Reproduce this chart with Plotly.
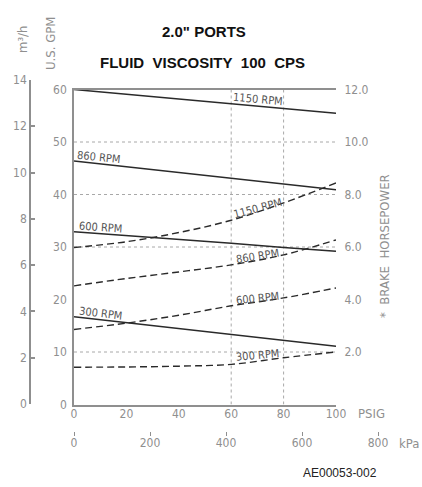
import plotly.graph_objects as go

W, H = 422, 487

# ---- data ----
psig = [0, 20, 40, 60, 80, 100]
rpms = ["1150 RPM", "860 RPM", "600 RPM", "300 RPM"]

# capacity, U.S. GPM (solid lines)
gpm_1150 = [60.0, 59.1, 58.2, 57.3, 56.4, 55.5]
gpm_860 = [46.4, 45.3, 44.2, 43.1, 42.0, 40.9]
gpm_600 = [32.9, 32.2, 31.4, 30.7, 29.9, 29.2]
gpm_300 = [16.7, 15.6, 14.5, 13.3, 12.2, 11.1]

# brake horsepower (dashed lines)
hp_1150 = [5.98, 6.2, 6.55, 7.02, 7.68, 8.44]
hp_860 = [4.52, 4.8, 5.05, 5.32, 5.7, 6.27]
hp_600 = [2.86, 3.1, 3.4, 3.76, 4.06, 4.44]
hp_300 = [1.42, 1.43, 1.46, 1.53, 1.78, 2.0]

gpm_ticks = [0, 10, 20, 30, 40, 50, 60]
hp_ticks = [2, 4, 6, 8, 10, 12]
m3h_ticks = [0, 2, 4, 6, 8, 10, 12, 14]
psig_ticks = [0, 20, 40, 60, 80, 100]
kpa_ticks = [0, 200, 400, 600, 800]
h_grid_gpm = [10, 30, 40, 50]
v_grid_psig = [60, 80]

# label anchor points (psig, value, angle)
solid_labels = [(70.2, 58.0, 5), (9.5, 47.1, 6), (10, 33.8, 4), (10, 17.4, 7)]
dash_labels = [(70.2, 7.48, -15), (70, 5.62, -9), (70, 4.02, -6), (70, 1.85, -5)]

# ---- styling ----
TICKFONT = "Liberation Sans Narrow, DejaVu Sans Condensed, Arial Narrow, sans-serif"
GRAY = "#8f8f8f"
LINE = "#2a2a2a"

fig = go.Figure()

for vals in [gpm_1150, gpm_860, gpm_600, gpm_300]:
    fig.add_trace(go.Scatter(x=psig, y=vals, mode="lines", xaxis="x", yaxis="y",
                             line=dict(color=LINE, width=1.5), showlegend=False,
                             hoverinfo="skip"))
for vals in [hp_1150, hp_860, hp_600, hp_300]:
    fig.add_trace(go.Scatter(x=psig, y=vals, mode="lines", xaxis="x", yaxis="y2",
                             line=dict(color=LINE, width=1.4, dash="7px,4px", shape="spline"),
                             showlegend=False, hoverinfo="skip"))
# empty traces so the secondary scales are drawn
fig.add_trace(go.Scatter(x=[None], y=[None], xaxis="x", yaxis="y3", showlegend=False))
fig.add_trace(go.Scatter(x=[None], y=[None], xaxis="x2", yaxis="y", showlegend=False))

xd = [74 / W, 336 / W]
yd = [1 - 404.5 / H, 1 - 89.5 / H]
tf = dict(family=TICKFONT, size=12, color=GRAY)

fig.update_layout(
    width=W, height=H, margin=dict(l=0, r=0, t=0, b=0, autoexpand=False),
    paper_bgcolor="white", plot_bgcolor="rgba(0,0,0,0)",
    xaxis=dict(domain=xd, range=[0, 100], tickvals=psig_ticks, showgrid=False,
               zeroline=False, showline=True, linecolor=GRAY, linewidth=1.5, mirror=True,
               ticks="", ticklabelstandoff=-3, tickfont=tf),
    xaxis2=dict(domain=[74 / W, 378 / W], range=[0, 800], tickvals=kpa_ticks,
                anchor="free", position=1 - 431 / H, showgrid=False, zeroline=False,
                showline=False, ticks="outside", ticklen=4, tickcolor=GRAY, tickwidth=1,
                ticklabelstandoff=-3, tickfont=tf),
    yaxis=dict(domain=yd, range=[0, 60], tickvals=gpm_ticks, showgrid=False,
               zeroline=False, showline=True, linecolor=GRAY, linewidth=1.5,
               ticks="outside", ticklen=3, tickcolor="rgba(0,0,0,0)", tickfont=tf),
    yaxis2=dict(domain=yd, range=[0, 12], tickvals=hp_ticks, tickformat=".1f",
                overlaying="y", side="right", anchor="x", showgrid=False, zeroline=False,
                showline=False, ticks="outside", ticklen=5, tickcolor="rgba(0,0,0,0)",
                tickfont=tf),
    yaxis3=dict(domain=[1 - 404 / H, 1 - 80 / H], range=[0, 14], tickvals=m3h_ticks,
                anchor="free", position=30 / W, side="left", showgrid=False, zeroline=False,
                showline=True, linecolor=GRAY, linewidth=1.5, ticks="inside", ticklen=4,
                tickcolor=GRAY, tickwidth=1.5, tickfont=tf),
)

for g in h_grid_gpm:
    fig.add_shape(type="line", xref="x", yref="y", x0=0, x1=100, y0=g, y1=g,
                  line=dict(color="#a8a8a8", width=1, dash="dot"), layer="below")
for v in v_grid_psig:
    fig.add_shape(type="line", xref="x", yref="y", x0=v, x1=v, y0=0, y1=60,
                  line=dict(color="#a8a8a8", width=1, dash="dot"), layer="below")

lf = dict(family=TICKFONT, size=11, color="#555555")
for name, (x, y, a) in zip(rpms, solid_labels):
    fig.add_annotation(x=x, y=y, xref="x", yref="y", text=name, showarrow=False,
                       textangle=a, font=lf, xanchor="center", yanchor="middle")
for name, (x, y, a) in zip(rpms, dash_labels):
    fig.add_annotation(x=x, y=y, xref="x", yref="y2", text=name, showarrow=False,
                       textangle=a, font=lf, xanchor="center", yanchor="middle")


def paper_note(px, py, text, font, angle=0, xanchor="center"):
    fig.add_annotation(x=px / W, y=1 - py / H, xref="paper", yref="paper", text=text,
                       showarrow=False, font=font, textangle=angle,
                       xanchor=xanchor, yanchor="middle")


tfont = dict(family="Liberation Sans, Arial, sans-serif", size=15, color="#111111")
paper_note(204, 32, "<b>2.0\" PORTS</b>", tfont)
paper_note(202, 62, "<b>FLUID\u00a0\u00a0VISCOSITY\u00a0\u00a0100\u00a0\u00a0CPS</b>", tfont)

af = dict(family=TICKFONT, size=13, color=GRAY)
paper_note(22, 40, "m³/h", af, angle=-90)
paper_note(50, 44, "U.S. GPM", af, angle=-90)
paper_note(384, 246, "*\u00a0\u00a0BRAKE\u00a0\u00a0HORSEPOWER", af, angle=-90)
paper_note(371, 413, "PSIG", af)
paper_note(421, 443, "kPa", af, xanchor="right")
paper_note(340, 473, "AE00053-002",
           dict(family="Liberation Sans, Arial, sans-serif", size=12, color="#222222"))

fig.write_html("out.html")
